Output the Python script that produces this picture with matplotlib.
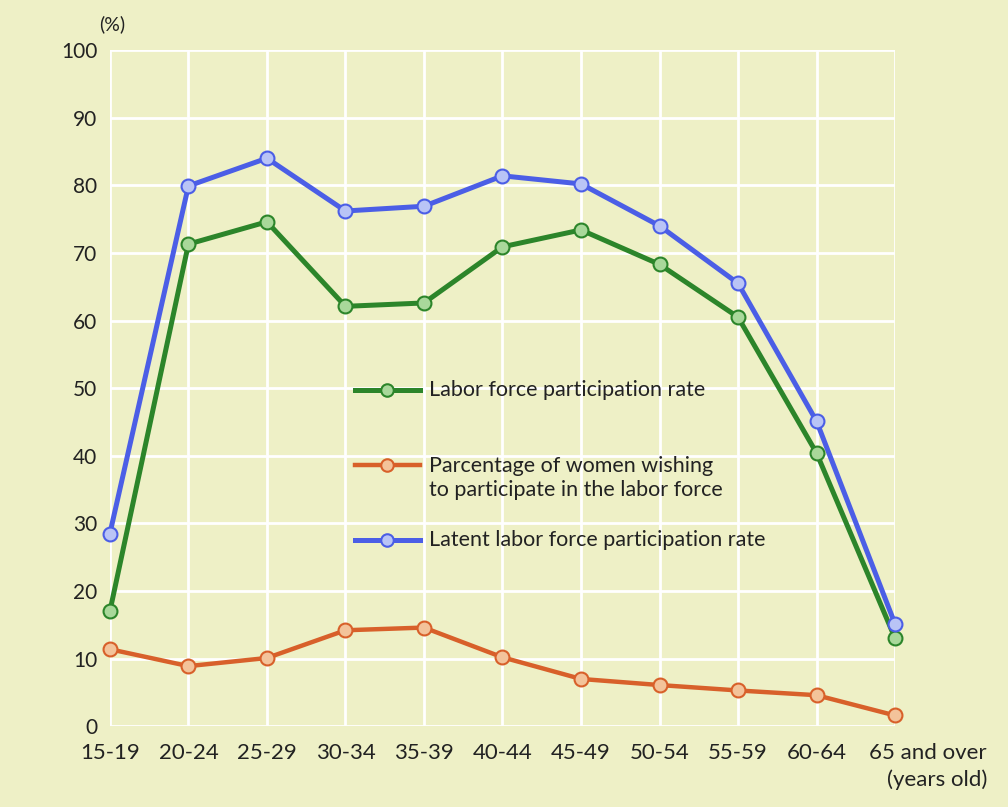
import numpy as np
import matplotlib.pyplot as plt
import matplotlib.transforms as mtransforms

# ----------------------------
# Dane
# ----------------------------
ages = ["15-19", "20-24", "25-29", "30-34", "35-39", "40-44",
        "45-49", "50-54", "55-59", "60-64", "65 and over\n(years old)"]
labor_rate = [17.0, 71.3, 74.6, 62.1, 62.6, 70.9, 73.4, 68.3, 60.5, 40.4, 13.0]
wishing = [11.4, 8.9, 10.1, 14.2, 14.6, 10.2, 7.0, 6.1, 5.3, 4.6, 1.6]
latent_rate = [28.5, 79.9, 84.0, 76.2, 76.9, 81.4, 80.2, 74.0, 65.5, 45.1, 15.1]
yticks = [0, 10, 20, 30, 40, 50, 60, 70, 80, 90, 100]

bg = "#eef0c6"
green, green_face = "#2c852a", "#a9d89a"
orange, orange_face = "#d8602a", "#f3c39a"
blue, blue_face = "#4b5ee6", "#b9c4f6"
txt = "#222222"

plt.rcParams['font.family'] = ['Lato', 'DejaVu Sans']

fig = plt.figure(figsize=(10.08, 8.07), dpi=100, facecolor=bg)
ax = fig.add_axes([0.109, 0.100, 0.779, 0.838], facecolor=bg)

x = np.arange(len(ages))

def draw(vals, col, face, lw):
    ax.plot(x, vals, '-', color=col, lw=lw, zorder=3, clip_on=False,
            solid_joinstyle='round')
    ax.plot(x, vals, 'o', ms=10, mfc=face, mec=col, mew=1.5, zorder=4,
            clip_on=False)

draw(wishing, orange, orange_face, 3.2)
draw(labor_rate, green, green_face, 3.6)
draw(latent_rate, blue, blue_face, 3.6)

ax.set_xlim(0, len(ages) - 1)
ax.set_ylim(0, 100)
ax.set_xticks(x)
ax.set_xticklabels(ages, fontsize=16, color=txt, linespacing=1.4)
ax.set_yticks(yticks)
ax.set_yticklabels([str(v) for v in yticks], fontsize=15, color=txt)
ax.tick_params(length=0, pad=9)
ax.tick_params(axis='x', pad=12)

# ostatnia etykieta przesunięta w prawo
last = ax.get_xticklabels()[-1]
last.set_multialignment('right')
last.set_transform(last.get_transform() +
                   mtransforms.ScaledTranslation(0.33, 0, fig.dpi_scale_trans))

for s in ax.spines.values():
    s.set_visible(False)
ax.grid(True, color="white", lw=2)
ax.set_axisbelow(True)

ax.text(-0.14, 102.5, "(%)", fontsize=14, color=txt,
        ha='left', va='bottom')

# ----------------------------
# Legenda (rysowana ręcznie)
# ----------------------------
leg_items = [
    (green, green_face, 3.6, 0.497, 0.497,
     "Labor force participation rate"),
    (orange, orange_face, 3.2, 0.386, 0.367,
     "Parcentage of women wishing\nto participate in the labor force"),
    (blue, blue_face, 3.6, 0.275, 0.275,
     "Latent labor force participation rate"),
]
for col, face, lw, yh, yt, lab in leg_items:
    ax.plot([0.312, 0.395], [yh, yh], '-', color=col, lw=lw,
            transform=ax.transAxes, zorder=5)
    ax.plot([0.3535], [yh], 'o', ms=9, mfc=face, mec=col, mew=1.5,
            transform=ax.transAxes, zorder=6)
    ax.text(0.407, yt, lab, fontsize=15.5, color=txt, ha='left', va='center',
            linespacing=1.25, transform=ax.transAxes, zorder=6)

plt.savefig("out.png", dpi=100, facecolor=bg)
